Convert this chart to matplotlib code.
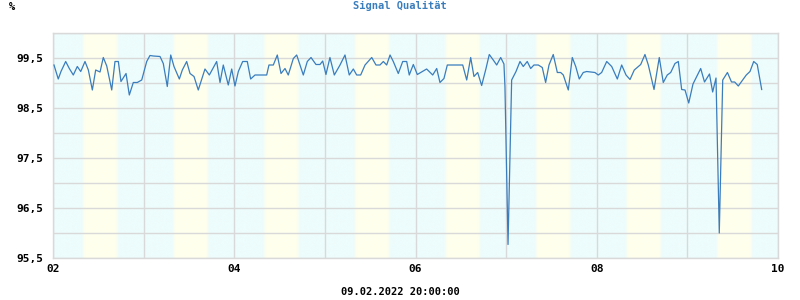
import numpy as np
import matplotlib
matplotlib.use("Agg")
import matplotlib.pyplot as plt
from matplotlib.ticker import MultipleLocator, FixedLocator

# time in days of the month (Feb 2022), signal quality in %
days = [2.011, 2.058, 2.088, 2.140, 2.180, 2.224, 2.268, 2.306, 2.353, 2.390,
        2.434, 2.471, 2.519, 2.555, 2.593, 2.648, 2.684, 2.721, 2.750, 2.806,
        2.842, 2.886, 2.930, 2.979, 3.034, 3.070, 3.107, 3.181, 3.217, 3.261,
        3.299, 3.335, 3.394, 3.427, 3.475, 3.512, 3.556, 3.603, 3.677, 3.725,
        3.806, 3.843, 3.879, 3.934, 3.972, 4.008, 4.045, 4.093, 4.144, 4.181,
        4.229, 4.358, 4.383, 4.431, 4.475, 4.516, 4.560, 4.596, 4.652, 4.689,
        4.762, 4.806, 4.847, 4.902, 4.946, 4.976, 5.012, 5.056, 5.104, 5.167,
        5.222, 5.269, 5.314, 5.351, 5.395, 5.443, 5.517, 5.564, 5.608, 5.645,
        5.682, 5.719, 5.755, 5.810, 5.859, 5.903, 5.931, 5.976, 6.020, 6.075,
        6.123, 6.190, 6.234, 6.270, 6.314, 6.351, 6.521, 6.565, 6.609, 6.645,
        6.686, 6.730, 6.778, 6.814, 6.858, 6.896, 6.940, 6.976, 6.987, 7.021,
        7.061, 7.109, 7.153, 7.189, 7.233, 7.271, 7.307, 7.355, 7.399, 7.436,
        7.473, 7.520, 7.565, 7.602, 7.631, 7.686, 7.730, 7.768, 7.807, 7.851,
        7.889, 7.980, 8.017, 8.054, 8.110, 8.165, 8.227, 8.275, 8.323, 8.367,
        8.414, 8.458, 8.485, 8.532, 8.569, 8.632, 8.690, 8.734, 8.778, 8.816,
        8.863, 8.900, 8.937, 8.974, 9.015, 9.062, 9.147, 9.189, 9.244, 9.279,
        9.316, 9.352, 9.390, 9.442, 9.487, 9.522, 9.562, 9.650, 9.691, 9.732,
        9.771, 9.820]
quality = [99.36, 99.08, 99.23, 99.43, 99.29, 99.16, 99.33, 99.23, 99.43, 99.26,
           98.86, 99.26, 99.22, 99.51, 99.34, 98.86, 99.43, 99.43, 99.03, 99.19,
           98.76, 99.01, 99.01, 99.06, 99.43, 99.55, 99.54, 99.53, 99.39, 98.93,
           99.56, 99.33, 99.08, 99.26, 99.43, 99.19, 99.13, 98.86, 99.28, 99.16,
           99.43, 99.01, 99.36, 98.96, 99.28, 98.94, 99.23, 99.43, 99.43, 99.08,
           99.16, 99.16, 99.36, 99.36, 99.56, 99.19, 99.29, 99.16, 99.49, 99.56,
           99.16, 99.43, 99.51, 99.37, 99.37, 99.44, 99.17, 99.51, 99.16, 99.36,
           99.56, 99.16, 99.28, 99.16, 99.16, 99.36, 99.51, 99.36, 99.36, 99.43,
           99.36, 99.56, 99.43, 99.19, 99.43, 99.43, 99.16, 99.37, 99.17, 99.23,
           99.28, 99.16, 99.29, 99.01, 99.09, 99.36, 99.36, 99.06, 99.51, 99.13,
           99.21, 98.95, 99.29, 99.57, 99.46, 99.36, 99.51, 99.38, 98.93, 95.77,
           99.06, 99.23, 99.43, 99.33, 99.43, 99.29, 99.36, 99.36, 99.31, 99.01,
           99.36, 99.57, 99.21, 99.21, 99.16, 98.86, 99.51, 99.33, 99.08, 99.21,
           99.23, 99.21, 99.16, 99.21, 99.43, 99.33, 99.08, 99.36, 99.16, 99.07,
           99.26, 99.33, 99.37, 99.57, 99.36, 98.87, 99.51, 99.01, 99.16, 99.21,
           99.39, 99.43, 98.87, 98.86, 98.60, 98.98, 99.29, 99.02, 99.18, 98.82,
           99.10, 96.00, 99.06, 99.21, 99.02, 99.02, 98.94, 99.16, 99.23, 99.43,
           99.37, 98.87]

x_ticks = [2, 4, 6, 8, 10]
x_tick_labels = ["02", "04", "06", "08", "10"]
y_ticks = [95.5, 96.5, 97.5, 98.5, 99.5]
y_tick_labels = ["95,5", "96,5", "97,5", "98,5", "99,5"]
title = "Signal Qualität"
unit_label = "%"
date_label = "09.02.2022 20:00:00"

FONT = "DejaVu Sans Mono"
fig = plt.figure(figsize=(8, 3), dpi=100)
ax = fig.add_axes([53/800, 1 - 258/300, 725/800, 225/300])

# day / night background bands
xmin, xmax, ymin, ymax = 2, 10, 95.5, 100.0
t = np.linspace(xmin, xmax, 2000)
hour = (t % 1) * 24
w = np.clip(np.minimum(hour - 7.6, 17.4 - hour) / 0.8, 0, 1)
cyan = np.array([237, 252, 252]) / 255
yellow = np.array([255, 255, 237]) / 255
cols = cyan[None, :] * (1 - w[:, None]) + yellow[None, :] * w[:, None]
ax.imshow(cols[None, :, :], extent=[xmin, xmax, ymin, ymax], aspect="auto",
          origin="lower", zorder=0, interpolation="bilinear")

ax.set_xlim(xmin, xmax)
ax.set_ylim(ymin, ymax)
ax.xaxis.set_major_locator(FixedLocator(x_ticks))
ax.xaxis.set_minor_locator(MultipleLocator(1))
ax.yaxis.set_major_locator(FixedLocator(y_ticks))
ax.yaxis.set_minor_locator(MultipleLocator(0.5))
ax.set_xticklabels(x_tick_labels)
ax.set_yticklabels(y_tick_labels)
ax.grid(True, which="both", color="#d9d9d9", linewidth=1.0, zorder=1)
ax.set_axisbelow(False)
for s in ax.spines.values():
    s.set_color("#d9d9d9")
    s.set_linewidth(1.0)
ax.tick_params(which="both", length=0)
ax.tick_params(axis="x", pad=4)
ax.tick_params(axis="y", pad=7)
for lab in ax.get_xticklabels() + ax.get_yticklabels():
    lab.set_fontfamily(FONT)
    lab.set_fontweight("bold")
    lab.set_fontsize(8)

ax.plot(days, quality, color="#3a7dbd", linewidth=0.9, zorder=3)

fig.text(400/800, 1 - 6/300, title, ha="center", va="center", family=FONT,
         fontweight="bold", fontsize=7.5, color="#3a7dbd")
fig.text(12/800, 1 - 7/300, unit_label, ha="center", va="center", family=FONT,
         fontweight="bold", fontsize=7.5, color="black")
fig.text(400/800, 1 - 292/300, date_label, ha="center", va="center", family=FONT,
         fontweight="bold", fontsize=7.5, color="black")

fig.savefig("out.png", dpi=100)
